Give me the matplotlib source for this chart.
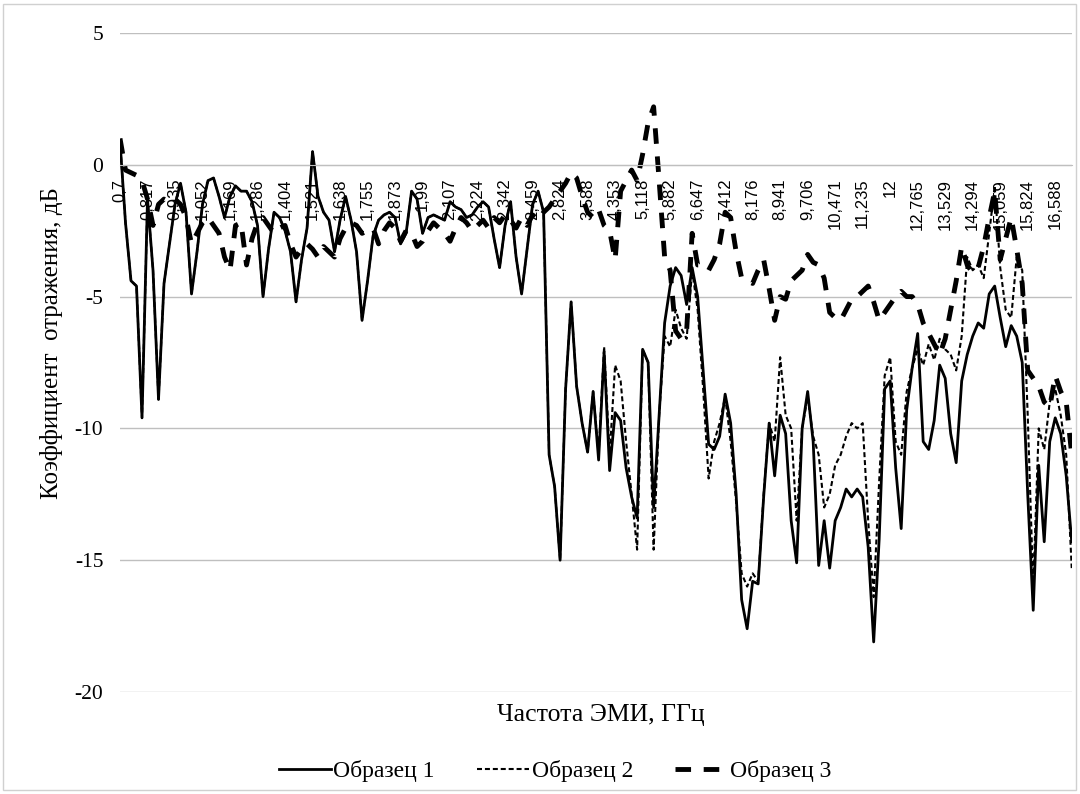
import numpy as np
import matplotlib.pyplot as plt
from matplotlib.patches import Rectangle

plt.rcParams['axes.unicode_minus'] = False

# подписи категорий (частота, ГГц) – показана каждая 5-я точка
freq_labels = ['0,7', '0,817', '0,935', '1,052', '1,169', '1,286', '1,404', '1,521',
               '1,638', '1,755', '1,873', '1,99', '2,107', '2,224', '2,342', '2,459',
               '2,824', '3,588', '4,353', '5,118', '5,882', '6,647', '7,412', '8,176',
               '8,941', '9,706', '10,471', '11,235', '12', '12,765', '13,529', '14,294',
               '15,059', '15,824', '16,588']

# Образец 1, дБ
s1 = [0.9, -2.2, -4.4, -4.6, -9.6, -1.3, -4.0, -8.9, -4.5, -3.0,
      -1.5, -0.7, -1.8, -4.9, -3.3, -1.5, -0.6, -0.5, -1.2, -2.0,
      -1.2, -0.8, -1.0, -1.0, -1.4, -2.3, -5.0, -3.2, -1.8, -2.0,
      -2.5, -3.3, -5.2, -3.6, -2.4, 0.5, -1.2, -1.8, -2.1, -3.3,
      -2.1, -1.2, -2.1, -3.3, -5.9, -4.4, -2.7, -2.1, -1.9, -1.8,
      -2.0, -3.0, -2.6, -1.0, -1.3, -2.6, -2.0, -1.9, -2.0, -2.1,
      -1.4, -1.6, -1.7, -2.0, -1.9, -1.6, -1.4, -1.6, -2.8, -3.9,
      -2.3, -1.4, -3.5, -4.9, -3.2, -1.5, -1.0, -1.8, -11.0, -12.2,
      -15.0, -8.5, -5.2, -8.4, -9.8, -10.9, -8.6, -11.2, -7.1, -11.6,
      -9.4, -9.7, -11.5, -12.6, -13.4, -7.0, -7.5, -13.0, -9.5, -6.0,
      -4.6, -3.9, -4.2, -5.3, -3.9, -5.0, -7.8, -10.6, -10.8, -10.3,
      -8.7, -9.8, -12.5, -16.5, -17.6, -15.8, -15.9, -12.6, -9.8, -11.8,
      -9.5, -10.2, -13.5, -15.1, -10.0, -8.6, -10.5, -15.2, -13.5, -15.3,
      -13.5, -13.0, -12.3, -12.6, -12.3, -12.6, -14.5, -18.1, -14.2, -8.5,
      -8.2, -11.5, -13.8, -9.3, -7.7, -6.4, -10.5, -10.8, -9.7, -7.6,
      -8.1, -10.2, -11.3, -8.2, -7.2, -6.5, -6.0, -6.2, -4.9, -4.6,
      -5.8, -6.9, -6.1, -6.5, -7.5, -12.5, -16.9, -11.4, -14.3, -10.5,
      -9.6, -10.2, -11.8, -14.3]

# Образец 2, дБ (в начале диапазона совпадает с образцом 1)
s2 = [0.9, -2.2, -4.4, -4.6, -9.6, -1.3, -4.0, -8.9, -4.5, -3.0,
      -1.5, -0.7, -1.8, -4.9, -3.3, -1.5, -0.6, -0.5, -1.2, -2.0,
      -1.2, -0.8, -1.0, -1.0, -1.4, -2.3, -5.0, -3.2, -1.8, -2.0,
      -2.5, -3.3, -5.2, -3.6, -2.4, 0.5, -1.2, -1.8, -2.1, -3.3,
      -2.1, -1.2, -2.1, -3.3, -5.9, -4.4, -2.7, -2.1, -1.9, -1.8,
      -2.0, -3.0, -2.6, -1.0, -1.3, -2.6, -2.0, -1.9, -2.0, -2.1,
      -1.4, -1.6, -1.7, -2.0, -1.9, -1.6, -1.4, -1.6, -2.8, -3.9,
      -2.3, -1.4, -3.5, -4.9, -3.2, -1.5, -1.0, -1.8, -11.0, -12.2,
      -15.0, -8.5, -5.2, -8.4, -9.8, -10.9, -8.6, -11.0, -6.9, -11.0,
      -7.6, -8.2, -10.5, -12.5, -14.6, -7.0, -7.5, -14.6, -9.5, -6.5,
      -6.9, -5.5, -6.2, -6.6, -4.0, -5.5, -8.5, -11.9, -10.5, -9.8,
      -8.8, -10.5, -12.8, -15.5, -16.0, -15.5, -15.8, -12.5, -9.8, -10.5,
      -7.3, -9.5, -10.0, -13.5, -10.0, -8.8, -10.3, -11.0, -13.0, -12.5,
      -11.4, -11.0, -10.3, -9.8, -10.0, -9.8, -13.5, -16.4, -12.0, -8.0,
      -7.3, -10.5, -11.0, -8.6, -7.7, -7.0, -7.6, -6.8, -7.4, -6.6,
      -7.0, -7.2, -7.8, -6.5, -3.5, -4.0, -3.8, -4.3, -2.6, -0.8,
      -3.9, -5.5, -5.8, -3.5, -4.0, -9.5, -16.0, -10.0, -10.8, -9.0,
      -8.5, -9.5, -11.0, -15.3]

# Образец 3, дБ
s3 = [1.0, -0.2, -0.3, -0.4, -0.6, -1.3, -2.3, -1.5, -1.3, -1.4,
      -1.3, -1.5, -2.0, -3.0, -2.6, -2.2, -2.0, -2.3, -2.6, -3.5,
      -4.0, -2.3, -2.2, -3.8, -2.8, -2.2, -2.0, -2.3, -2.6, -2.4,
      -2.3, -3.0, -3.5, -3.2, -3.0, -3.2, -3.5, -3.1, -3.3, -3.5,
      -2.8, -2.4, -2.2, -2.3, -2.6, -2.5, -2.4, -3.0, -2.5, -2.2,
      -2.4, -2.9, -2.5, -2.6, -3.1, -2.9, -2.5, -2.2, -2.4, -2.6,
      -2.9, -2.4, -2.0, -2.2, -2.5, -2.3, -2.1, -2.4, -2.0, -2.2,
      -1.9, -2.1, -2.4, -2.0, -2.3, -1.9, -2.1, -1.8, -1.6, -1.3,
      -1.0, -0.7, -0.3, -0.5, -1.2, -1.8, -2.0, -1.7, -2.3, -2.5,
      -3.6, -1.0, -0.6, -0.2, -0.6, 0.4, 1.6, 2.2, -0.6, -3.5,
      -4.0, -6.3, -6.6, -6.3, -2.6, -3.8, -3.8, -4.0, -3.6, -3.0,
      -1.8, -2.0, -3.3, -4.3, -4.4, -4.5, -4.0, -3.6, -4.7, -5.9,
      -5.0, -5.1, -4.4, -4.2, -4.0, -3.4, -3.7, -3.8, -4.3, -5.6,
      -5.8, -5.9, -5.5, -5.1, -5.0, -4.8, -4.6, -5.2, -5.9, -5.6,
      -5.3, -5.0, -4.8, -5.0, -5.0, -5.3, -6.0, -6.4, -6.8, -7.2,
      -6.6, -5.5, -4.4, -3.1, -3.8, -4.1, -3.9, -3.1, -2.0, -1.0,
      -3.6, -2.8, -2.0, -3.2, -4.5, -7.8, -8.1, -8.4, -9.0, -9.2,
      -8.0, -8.6, -9.0, -11.0]

n = len(s1)
idx = np.arange(n)

fig = plt.figure(figsize=(10.8, 7.94), dpi=100)
ax = fig.add_axes([120 / 1080, 102 / 794, 952 / 1080, 659 / 794])

ax.plot(idx, s1, color='black', lw=2.0, ls='-', label='Образец 1')
ax.plot(idx, s2, color='black', lw=1.5, ls=(0, (2.4, 1.4)), label='Образец 2')
ax.plot(idx, s3, color='black', lw=3.5, ls=(0, (3.2, 2.6)), label='Образец 3')

ax.set_xlim(0, n - 0.95)
ax.set_ylim(-20, 5)
ax.set_yticks(np.arange(-20, 6, 5))
ax.grid(axis='y', color='#bfbfbf', lw=1)
ax.set_axisbelow(True)

for side in ['top', 'right', 'left']:
    ax.spines[side].set_visible(False)
ax.spines['bottom'].set_position(('data', 0))
ax.spines['bottom'].set_color('#bfbfbf')

ax.set_xticks(idx[::5][:len(freq_labels)])
ax.set_xticklabels(freq_labels, rotation=90, family='Liberation Sans', fontsize=12)
ax.tick_params(axis='x', length=0, pad=10)
ax.tick_params(axis='y', length=0, pad=12)
for t in ax.get_yticklabels():
    t.set_family('Liberation Serif')
    t.set_fontsize(15.5)

ax.set_xlabel('Частота ЭМИ, ГГц', family='Liberation Serif', fontsize=18.5)
ax.xaxis.set_label_coords(0.505, -0.018)
ax.set_ylabel('Коэффициент  отражения, дБ', family='Liberation Serif', fontsize=18)
ax.yaxis.set_label_coords(-0.06, 0.53)

fig.legend(loc='center', bbox_to_anchor=(555 / 1080, 1 - 771 / 794), ncol=3,
           frameon=False, prop={'family': 'Liberation Serif', 'size': 17},
           handlelength=2.2, handletextpad=0.1, columnspacing=1.8)

fig.patches.append(Rectangle((3 / 1080, 4 / 794), 1073 / 1080, 786 / 794,
                             transform=fig.transFigure, fill=False,
                             edgecolor='#d0d0d0', lw=1))

fig.savefig('out.png', dpi=100)
